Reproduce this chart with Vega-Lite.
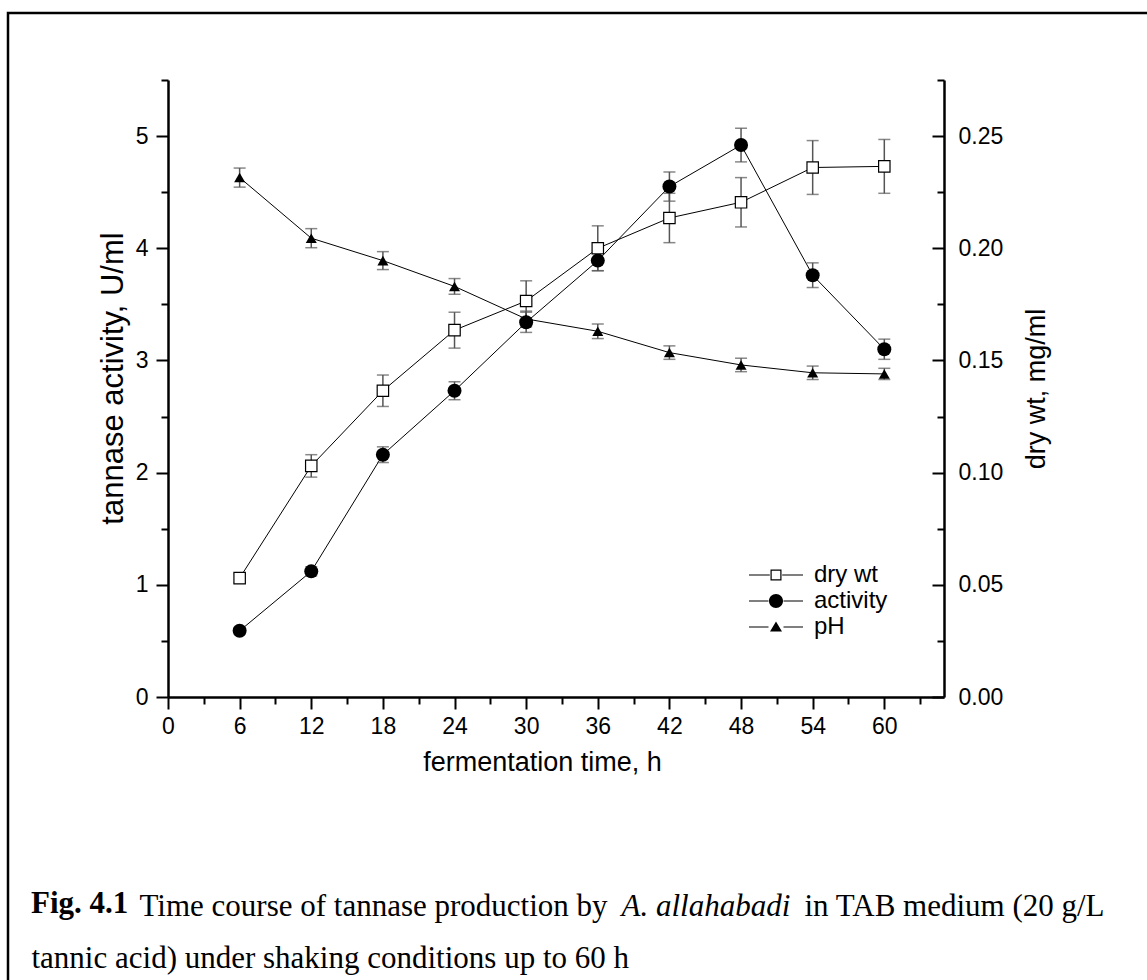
{
  "$schema": "https://vega.github.io/schema/vega-lite/v6.json",
  "width": 1190,
  "height": 975,
  "autosize": {"type": "none"},
  "padding": {"left": 8, "top": 13, "right": -51, "bottom": -8},
  "background": "white",
  "title": {
    "text": "Fig. 4.1",
    "orient": "bottom",
    "anchor": "start",
    "frame": "group",
    "offset": -99,
    "dx": 23,
    "font": "Liberation Serif",
    "fontSize": 31,
    "fontWeight": "bold",
    "color": "black"
  },
  "config": {
    "view": {"stroke": "black", "strokeWidth": 2.5},
    "axis": {
      "grid": false,
      "domainColor": "black",
      "tickColor": "black",
      "labelColor": "black",
      "titleColor": "black",
      "labelFont": "Liberation Sans",
      "titleFont": "Liberation Sans",
      "labelFontSize": 23,
      "titleFontSize": 27,
      "titleFontWeight": "normal",
      "domainWidth": 2.5,
      "tickWidth": 2,
      "labelFlush": false,
      "labelOverlap": false
    }
  },
  "data": {
    "values": [
      {"t": 6, "series": "activity", "v": 0.59, "e": 0.03},
      {"t": 12, "series": "activity", "v": 1.12, "e": 0.04},
      {"t": 18, "series": "activity", "v": 2.16, "e": 0.07},
      {"t": 24, "series": "activity", "v": 2.73, "e": 0.08},
      {"t": 30, "series": "activity", "v": 3.34, "e": 0.09},
      {"t": 36, "series": "activity", "v": 3.89, "e": 0.09},
      {"t": 42, "series": "activity", "v": 4.55, "e": 0.13},
      {"t": 48, "series": "activity", "v": 4.92, "e": 0.15},
      {"t": 54, "series": "activity", "v": 3.76, "e": 0.11},
      {"t": 60, "series": "activity", "v": 3.10, "e": 0.09},
      {"t": 6, "series": "pH", "v": 4.63, "e": 0.085},
      {"t": 12, "series": "pH", "v": 4.09, "e": 0.085},
      {"t": 18, "series": "pH", "v": 3.89, "e": 0.08},
      {"t": 24, "series": "pH", "v": 3.66, "e": 0.07},
      {"t": 30, "series": "pH", "v": 3.37, "e": 0.07},
      {"t": 36, "series": "pH", "v": 3.26, "e": 0.065},
      {"t": 42, "series": "pH", "v": 3.07, "e": 0.06},
      {"t": 48, "series": "pH", "v": 2.96, "e": 0.06},
      {"t": 54, "series": "pH", "v": 2.89, "e": 0.06},
      {"t": 60, "series": "pH", "v": 2.88, "e": 0.05},
      {"t": 6, "series": "dry wt", "v": 0.053, "e": 0.002},
      {"t": 12, "series": "dry wt", "v": 0.103, "e": 0.005},
      {"t": 18, "series": "dry wt", "v": 0.1365, "e": 0.007},
      {"t": 24, "series": "dry wt", "v": 0.1635, "e": 0.008},
      {"t": 30, "series": "dry wt", "v": 0.1765, "e": 0.009},
      {"t": 36, "series": "dry wt", "v": 0.2, "e": 0.01},
      {"t": 42, "series": "dry wt", "v": 0.2135, "e": 0.011},
      {"t": 48, "series": "dry wt", "v": 0.2205, "e": 0.011},
      {"t": 54, "series": "dry wt", "v": 0.236, "e": 0.012},
      {"t": 60, "series": "dry wt", "v": 0.2365, "e": 0.012}
    ]
  },
  "layer": [
    {
      "transform": [{"filter": "datum.series !== 'dry wt'"}],
      "mark": {"type": "line", "color": "black", "strokeWidth": 1},
      "encoding": {
        "x": {"field": "t", "type": "quantitative", "scale": {"domain": [0, 65], "range": [160, 936], "nice": false},
          "axis": {"orient": "bottom", "offset": -291, "values": [0, 6, 12, 18, 24, 30, 36, 42, 48, 54, 60], "tickSize": 12, "labelPadding": 6, "format": "d",
            "title": "fermentation time, h", "titleX": 534, "titleY": 73, "titleAlign": "center", "titleBaseline": "alphabetic"}},
        "y": {"field": "v", "type": "quantitative", "scale": {"domain": [0, 5.5], "range": [684, 67], "nice": false},
          "axis": {"orient": "left", "offset": -160, "values": [0, 1, 2, 3, 4, 5], "tickSize": 12, "labelPadding": 8, "format": "d",
            "title": "tannase activity, U/ml", "titleFontSize": 31, "titleX": -39, "titleY": 365, "titleAngle": -90, "titleAlign": "center", "titleBaseline": "bottom"}},
        "detail": {"field": "series"}
      }
    },
    {
      "transform": [{"filter": "datum.series === 'dry wt'"}],
      "mark": {"type": "line", "color": "black", "strokeWidth": 1},
      "encoding": {
        "x": {"field": "t", "type": "quantitative", "scale": {"domain": [0, 65], "range": [160, 936], "nice": false}, "axis": null},
        "y": {"field": "v", "type": "quantitative", "scale": {"domain": [0, 0.275], "range": [684, 67], "nice": false},
          "axis": {"orient": "right", "offset": -254, "values": [0, 0.05, 0.1, 0.15, 0.2, 0.25], "ticks": false, "labelPadding": 14, "format": ".2f", "title": "dry wt, mg/ml", "titleAngle": -90, "titleBaseline": "top", "titlePadding": 21}}
      }
    },
    {
      "transform": [{"filter": "datum.series !== 'dry wt'"}],
      "mark": {"type": "errorbar", "ticks": {"size": 12, "thickness": 1.5, "color": "#555555"}, "rule": {"color": "#555555", "strokeWidth": 1.5}},
      "encoding": {
        "x": {"field": "t", "type": "quantitative", "scale": {"domain": [0, 65], "range": [160, 936], "nice": false}, "axis": null},
        "y": {"field": "v", "type": "quantitative", "scale": {"domain": [0, 5.5], "range": [684, 67], "nice": false}, "axis": null},
        "yError": {"field": "e"}
      }
    },
    {
      "transform": [{"filter": "datum.series === 'dry wt'"}],
      "mark": {"type": "errorbar", "ticks": {"size": 12, "thickness": 1.5, "color": "#555555"}, "rule": {"color": "#555555", "strokeWidth": 1.5}},
      "encoding": {
        "x": {"field": "t", "type": "quantitative", "scale": {"domain": [0, 65], "range": [160, 936], "nice": false}, "axis": null},
        "y": {"field": "v", "type": "quantitative", "scale": {"domain": [0, 0.275], "range": [684, 67], "nice": false}, "axis": null},
        "yError": {"field": "e"}
      }
    },
    {
      "transform": [{"filter": "datum.series === 'activity'"}],
      "mark": {"type": "point", "shape": "circle", "filled": true, "color": "black", "size": 196, "opacity": 1},
      "encoding": {
        "x": {"field": "t", "type": "quantitative", "scale": {"domain": [0, 65], "range": [160, 936], "nice": false},
          "axis": {"orient": "bottom", "offset": -291, "values": [3, 9, 15, 21, 27, 33, 39, 45, 51, 57, 63], "tickSize": 7, "labels": false, "domain": false,
            "title": "Time course of tannase production by", "titleX": 131, "titleY": 218, "titleAlign": "left", "titleAngle": 0, "titleBaseline": "alphabetic", "titleFont": "Liberation Serif", "titleFontSize": 31, "titleFontWeight": "normal"}},
        "y": {"field": "v", "type": "quantitative", "scale": {"domain": [0, 5.5], "range": [684, 67], "nice": false},
          "axis": {"orient": "left", "offset": -160, "values": [0.5, 1.5, 2.5, 3.5, 4.5, 5.5], "tickSize": 7, "labels": false, "domain": false,
            "title": "A. allahabadi", "titleX": 453, "titleY": 902, "titleAlign": "left", "titleAngle": 0, "titleBaseline": "alphabetic", "titleFont": "Liberation Serif", "titleFontSize": 31, "titleFontWeight": "normal", "titleFontStyle": "italic"}}
      }
    },
    {
      "transform": [{"filter": "datum.series === 'pH'"}],
      "mark": {"type": "point", "shape": "triangle-up", "filled": true, "color": "black", "size": 121, "opacity": 1},
      "encoding": {
        "x": {"field": "t", "type": "quantitative", "scale": {"domain": [0, 65], "range": [160, 936], "nice": false}, "axis": null},
        "y": {"field": "v", "type": "quantitative", "scale": {"domain": [0, 5.5], "range": [684, 67], "nice": false}, "axis": null}
      }
    },
    {
      "transform": [{"filter": "datum.series === 'dry wt'"}],
      "mark": {"type": "point", "shape": "square", "filled": true, "fill": "white", "stroke": "black", "strokeWidth": 1.2, "size": 130, "opacity": 1},
      "encoding": {
        "x": {"field": "t", "type": "quantitative", "scale": {"domain": [0, 65], "range": [160, 936], "nice": false}, "axis": null},
        "y": {"field": "v", "type": "quantitative", "scale": {"domain": [0, 0.275], "range": [684, 67], "nice": false},
          "axis": {"orient": "right", "offset": -254, "values": [0, 0.05, 0.1, 0.15, 0.2, 0.25], "tickSize": -12, "labels": false, "domain": false,
            "title": "in TAB medium (20 g/L", "titleX": -140, "titleY": 902, "titleAlign": "left", "titleAngle": 0, "titleBaseline": "alphabetic", "titleFont": "Liberation Serif", "titleFontSize": 31, "titleFontWeight": "normal"}}
      }
    },
    {
      "mark": {"type": "point", "filled": true, "fill": "black", "opacity": 0},
      "encoding": {
        "x": {"field": "t", "type": "quantitative", "scale": {"domain": [0, 65], "range": [160, 936], "nice": false}, "axis": null},
        "y": {"field": "v", "type": "quantitative", "scale": {"domain": [0, 0.275], "range": [684, 67], "nice": false},
          "axis": {"orient": "right", "offset": -254, "values": [0.025, 0.075, 0.125, 0.175, 0.225, 0.275], "tickSize": -7, "labels": false, "domain": false,
            "title": "tannic acid) under shaking conditions up to 60 h", "titleX": -913, "titleY": 954, "titleAlign": "left", "titleAngle": 0, "titleBaseline": "alphabetic", "titleFont": "Liberation Serif", "titleFontSize": 31, "titleFontWeight": "normal"}},
        "shape": {
          "field": "series",
          "type": "nominal",
          "scale": {
            "domain": ["dry wt", "activity", "pH"],
            "range": [
              "M-2.7,-0.05H-0.62V0.05H-2.7ZM0.62,-0.05H2.7V0.05H0.62ZM-0.55,-0.55H0.55V0.55H-0.55ZM-0.43,-0.43V0.43H0.43V-0.43Z",
              "M-2.7,-0.05H-0.75V0.05H-2.7ZM0.75,-0.05H2.7V0.05H0.75ZM-0.7,0A0.7,0.7,0,1,1,0.7,0A0.7,0.7,0,1,1,-0.7,0Z",
              "M-2.7,-0.05H-0.75V0.05H-2.7ZM0.75,-0.05H2.7V0.05H0.75ZM0,-0.55L0.6,0.45L-0.6,0.45Z"
            ]
          },
          "legend": {
            "orient": "none",
            "legendX": 756,
            "legendY": 550,
            "title": null,
            "padding": 0,
            "symbolSize": 400,
            "symbolStrokeWidth": 0,
            "symbolOpacity": 1,
            "symbolFillColor": "black",
            "labelOffset": 26,
            "labelFont": "Liberation Sans",
            "labelFontSize": 24,
            "labelColor": "black",
            "rowPadding": 2
          }
        }
      }
    }
  ],
  "resolve": {
    "scale": {"x": "independent", "y": "independent"},
    "axis": {"x": "independent", "y": "independent"}
  }
}
